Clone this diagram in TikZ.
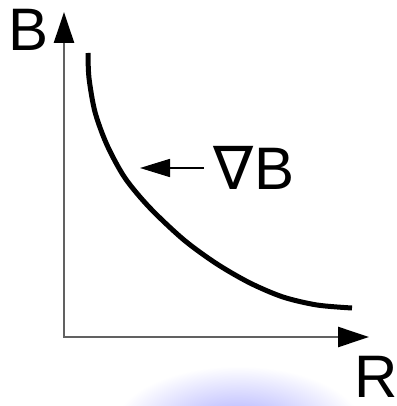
\documentclass[tikz,border=0pt]{standalone}
\usepackage{fontspec}
\setmainfont{Liberation Sans}
\newfontfamily\nablafont{DejaVu Sans}
\usetikzlibrary{arrows.meta}

\begin{document}
\begin{tikzpicture}[x=1pt,y=-1pt,
  axis/.style={draw=black!62,line width=2.5pt,
    {Triangle[length=31pt,width=20pt,color=black]}-{Triangle[length=31pt,width=20pt,color=black]}},
  curve/.style={line width=5pt},
  gradarrow/.style={line width=1.6pt,-{Triangle[length=30pt,width=18pt]}},
  lbl/.style={inner sep=0pt,font=\fontsize{60}{72}\selectfont}]
  \useasboundingbox (0,0) rectangle (396,406);
  % glow under the plot
  \begin{scope}
    \clip (0,0) rectangle (396,406);
    \shade[inner color={rgb,255:red,165;green,165;blue,255},outer color=white]
      (238,430) ellipse [x radius=126,y radius=64];
  \end{scope}
  % axes
  \coordinate (o) at (64,337);
  \coordinate (ytip) at (64,12);
  \coordinate (xtip) at (369,337);
  \draw[axis] (ytip) -- (o) -- (xtip);
  \node[lbl] (blabel) at (29,30) {B};
  \node[lbl] (rlabel) at (376,377) {R};
  % field falling off with R
  \draw[curve] plot[smooth,tension=0.5] coordinates
    {(88,53) (89,78) (95,112) (107,145) (125,178) (150,208) (184,240)
     (217,264) (250,283) (283,297) (317,305) (352,308)};
  \node[lbl] (grad) at (254,168) {{\nablafont ∇}B};
  \coordinate (gradtip) at (140,168);
  \draw[gradarrow,shorten <=10pt] (grad.west) -- (gradtip);
\end{tikzpicture}
\end{document}
